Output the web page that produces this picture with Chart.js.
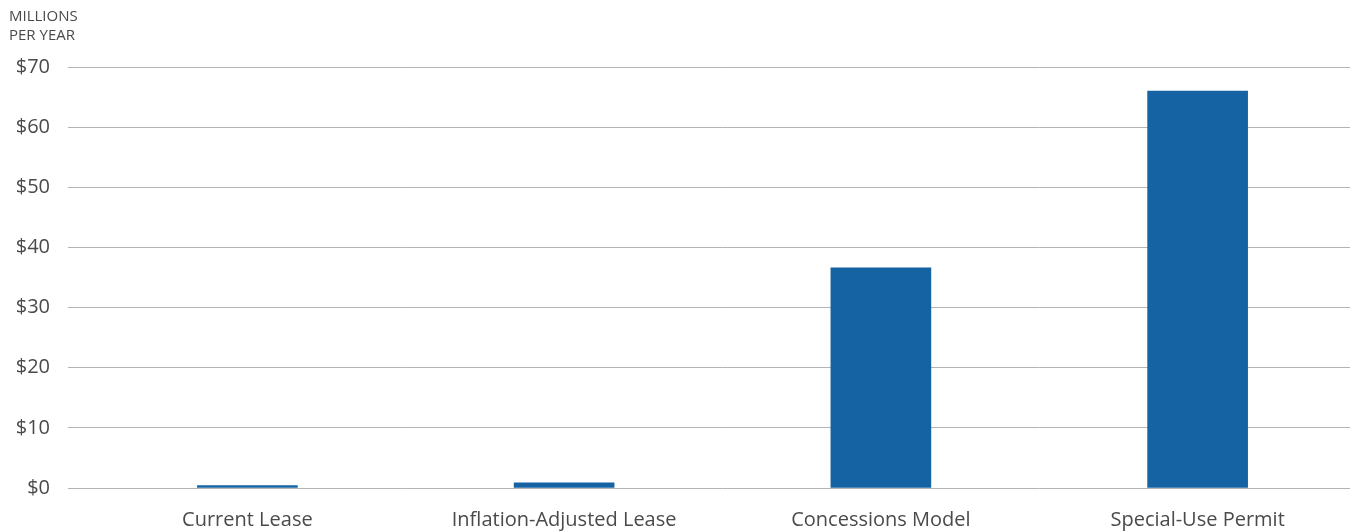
<!DOCTYPE html>
<html>
<head>
<meta charset="utf-8">
<script src="https://cdn.jsdelivr.net/npm/chart.js@4.4.0/dist/chart.umd.min.js"></script>
<style>
    html, body { margin: 0; padding: 0; background: #fff; overflow: hidden; }
    #wrap { width: 1356px; height: 531px; position: relative; }
</style>
</head>
<body>
<div id="wrap"><canvas id="js--chart--1"></canvas></div>
<script>
// data
const categories = ['Current Lease', 'Inflation-Adjusted Lease', 'Concessions Model', 'Special-Use Permit'];
const revenue = [0.4, 0.85, 36.6, 66.0];
const yTicks = [0, 10, 20, 30, 40, 50, 60, 70];
const unitLabel = ['MILLIONS', 'PER YEAR'];

const fontName = "'Open Sans', 'Lato', sans-serif";
const textColor = '#4a4a4a';

// the little label top-left
const unitPlugin = {
    id: 'unitLabel',
    afterDraw(chart) {
        const c = chart.ctx;
        c.save();
        c.fillStyle = textColor;
        c.font = '15px ' + fontName;
        c.textBaseline = 'alphabetic';
        c.textAlign = 'left';
        unitLabel.forEach((line, i) => {
            c.fillText(line, 9, 21 + i * 19);
        });
        c.restore();
    }
};

const ctx = document.getElementById('js--chart--1');

new Chart(ctx, {
    type: 'bar',
    data: {
        labels: categories,
        datasets: [{
            label: 'Millions per year',
            data: revenue,
            backgroundColor: '#1663a4',
            borderWidth: 0,
            barThickness: 100
        }]
    },
    options: {
        responsive: true,
        maintainAspectRatio: false,
        animation: false,
        layout: {
            padding: { top: 67, right: 0, bottom: 0, left: 0 }
        },
        plugins: {
            legend: { display: false },
            tooltip: { enabled: false }
        },
        scales: {
            x: {
                grid: { display: false },
                border: { display: false },
                ticks: {
                    color: textColor,
                    font: { family: fontName, size: 20 },
                    padding: 12,
                    maxRotation: 0
                },
                afterFit(scale) { scale.height = 43; }
            },
            y: {
                min: 0,
                max: 70,
                afterBuildTicks(scale) {
                    scale.ticks = yTicks.map(v => ({ value: v }));
                },
                grid: {
                    color: '#b3b3b3',
                    lineWidth: 1,
                    drawTicks: true,
                    tickLength: 21
                },
                border: { display: false },
                ticks: {
                    color: textColor,
                    font: { family: fontName, size: 20 },
                    padding: 18,
                    callback: v => '$' + v
                },
                afterFit(scale) { scale.width = 89; }
            }
        }
    },
    plugins: [unitPlugin]
});
</script>
</body>
</html>
